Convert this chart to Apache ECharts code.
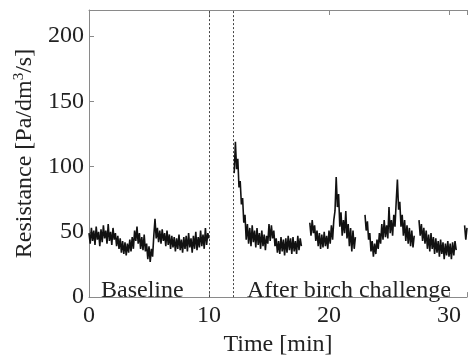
<!DOCTYPE html>
<html><head><meta charset="utf-8">
<script src="https://cdn.jsdelivr.net/npm/echarts@6/dist/echarts.min.js"></script>
<style>html,body{margin:0;padding:0;background:#fff}#c{width:470px;height:362px}</style>
</head><body><div id="c"></div>
<script>
// sampling step (min)
const step = 0.1;
// segment start times (min)
const segStarts = [0.0, 12.1, 18.4, 23.0, 27.5, 31.3];
// resistance values per segment [Pa/dm3/s]
const seg0 = [49,41,53,43,51,40,54,44,50,39,
  52,42,55,45,51,41,56,43,50,40,
  53,44,49,39,47,37,45,34,43,33,
  42,32,41,34,44,35,46,37,51,43,
  54,41,49,37,46,36,48,35,41,29,
  39,27,37,31,47,60,45,53,42,51,
  41,52,43,49,39,51,40,48,37,47,
  38,46,35,45,37,48,36,44,34,46,
  37,47,35,49,38,45,34,47,37,50,
  36,46,38,51,39,48,37,53,40,49,
  45];
const seg1 = [95,119,98,106,84,89,71,76,57,63,
  44,56,41,53,39,55,42,51,38,53,
  40,49,37,51,39,48,36,47,41,56,
  43,55,45,51,39,45,34,43,33,46,
  35,44,32,45,34,47,36,45,33,46,
  35,43,33,47,36,45,39];
const seg2 = [57,47,59,49,55,43,51,39,49,37,
  48,38,50,39,47,37,51,41,55,44,
  59,66,92,69,79,54,65,47,59,49,
  66,45,56,39,53,35,51,37,46];
const seg3 = [63,51,58,44,49,35,43,31,41,33,
  44,37,49,41,56,44,59,46,55,45,
  69,49,59,47,63,54,73,90,67,73,
  54,63,47,59,43,55,41,53,39,51,
  38,47];
const seg4 = [59,47,56,43,53,41,51,37,48,35,
  49,37,46,33,45,34,43,31,44,33,
  42,29,41,32,43,31,41,29,42,32,
  43,36];
const seg5 = [55,44,53];
const segments = [seg0, seg1, seg2, seg3, seg4, seg5];
// axis ticks
const xTicks = [0, 10, 20, 30];
const yTicks = [0, 50, 100, 150, 200];
// phase boundaries (min)
const markers = [10, 12];

const data = [];
segments.forEach((s, k) => {
  s.forEach((v, i) => data.push([+(segStarts[k] + i * step).toFixed(2), v]));
  data.push([+(segStarts[k] + s.length * step).toFixed(2), null]);
});

const font = 'Liberation Serif, Times New Roman, serif';
const axisColor = '#8a8a8a';
const chart = echarts.init(document.getElementById('c'), null, {renderer: 'canvas'});
chart.setOption({
  animation: false,
  backgroundColor: '#fff',
  grid: {left: 89, right: 0, top: 10, bottom: 57, containLabel: false},
  xAxis: [{
    type: 'value', min: 0, max: 31.5, interval: 10,
    axisLine: {lineStyle: {color: axisColor, width: 1}},
    axisTick: {inside: true, length: 5, lineStyle: {color: axisColor}},
    splitLine: {show: false},
    axisLabel: {fontFamily: font, fontSize: 24, color: '#222', margin: 7,
      formatter: v => xTicks.includes(v) ? String(v) : ''},
    name: 'Time [min]', nameLocation: 'middle', nameGap: 32,
    nameTextStyle: {fontFamily: font, fontSize: 24, color: '#222'}
  }, {
    type: 'value', position: 'top', min: 0, max: 31.5, interval: 10,
    axisLine: {show: true, lineStyle: {color: axisColor, width: 1}},
    axisTick: {inside: true, length: 5, lineStyle: {color: axisColor}},
    axisLabel: {show: false}, splitLine: {show: false}
  }],
  yAxis: {
    type: 'value', min: 0, max: 220, interval: 50,
    axisLine: {show: true, lineStyle: {color: axisColor, width: 1}},
    axisTick: {show: true, inside: true, length: 5, lineStyle: {color: axisColor}},
    splitLine: {show: false},
    axisLabel: {fontFamily: font, fontSize: 24, color: '#222', margin: 5,
      formatter: v => yTicks.includes(v) ? String(v) : ''},
    name: 'Resistance [Pa/dm{sup|3}/s]', nameLocation: 'middle', nameGap: 44,
    nameTextStyle: {fontFamily: font, fontSize: 24, color: '#222',
      rich: {sup: {fontFamily: font, fontSize: 15, color: '#222', verticalAlign: 'top', padding: [0, 0, 12, 0]}}}
  },
  graphic: [
    {type: 'text', left: 101, top: 279, style: {text: 'Baseline', font: '24px ' + font, fill: '#222'}},
    {type: 'text', left: 247, top: 279, style: {text: 'After birch challenge', font: '24px ' + font, fill: '#222'}}
  ],
  series: [{
    type: 'line', data: data, showSymbol: false, connectNulls: false, sampling: 'none',
    lineStyle: {color: '#111', width: 1.6},
    markLine: {
      silent: true, symbol: 'none', label: {show: false},
      lineStyle: {type: [2, 2], color: '#444', width: 1},
      data: markers.map(m => ({xAxis: m}))
    }
  }]
});
</script></body></html>
